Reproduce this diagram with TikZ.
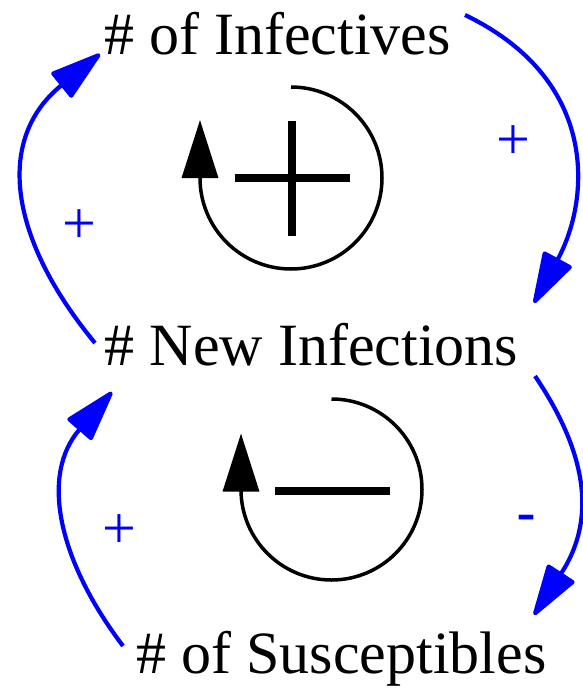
\documentclass[tikz,border=0pt]{standalone}
\usepackage{fontspec}
\setmainfont{Liberation Serif}
\newfontfamily\sansf{Liberation Sans}
\usetikzlibrary{arrows.meta}
\definecolor{linkblue}{RGB}{0,0,255}
\tikzset{
  varname/.style={anchor=base, inner sep=0pt, font=\rmfamily\fontsize{60}{72}\selectfont},
  link/.style={draw=linkblue, line width=4.2pt, -{Triangle[length=56pt,width=33pt,round]}, fill=none},
  polarity/.style={text=linkblue, inner sep=0pt, font=\rmfamily\fontsize{60}{72}\selectfont},
  loopline/.style={draw=black, line width=3.5pt, -{Triangle[length=58pt,width=36pt]}},
  loopbar/.style={draw=black, line width=8pt},
}
\begin{document}
\begin{tikzpicture}[x=1pt,y=-1pt]
\useasboundingbox (0,0) rectangle (583,690);
% variables
\node[varname] (inf) at (277.5,55) {\# of Infectives};
\node[varname] (newinf) at (311.5,365) {\# New Infections};
\node[varname] (sus) at (341.5,673) {\# of Susceptibles};
% connector end points
\coordinate (a1s) at (465,15);
\coordinate (a1e) at (534,303);
\coordinate (a2s) at (95,343);
\coordinate (a2e) at (100,54);
\coordinate (a3s) at (535,376);
\coordinate (a3e) at (534,615);
\coordinate (a4s) at (123,646);
\coordinate (a4e) at (112,392);
% causal links
\draw[link] (a1s) .. controls (600,80) and (590,200) .. (a1e);
\draw[link] (a2s) .. controls (10,240) and (-6,140) .. (a2e);
\draw[link] (a3s) .. controls (585,450) and (598,517) .. (a3e);
\draw[link] (a4s) .. controls (58,560) and (40,475) .. (a4e);
% polarities
\node[polarity] (p1) at (513,143) {+};
\node[polarity] (p2) at (79,227) {+};
\node[polarity, font=\sansf\fontsize{60}{72}\selectfont] (p3) at (526,524) {-};
\node[polarity] (p4) at (119,532) {+};
% loop 1 (reinforcing)
\coordinate (l1) at (291,178);
\draw[loopline] ([shift={(-90:91)}]l1) arc[start angle=-90,end angle=180,radius=91] -- ++(0,-58);
\draw[loopbar] (235,178) -- (350,178);
\draw[loopbar] (292,121) -- (292,236);
% loop 2 (balancing)
\coordinate (l2) at (331.5,489.5);
\draw[loopline] ([shift={(-90:90.5)}]l2) arc[start angle=-90,end angle=180,radius=90.5] -- ++(0,-56);
\draw[loopbar] (275,491) -- (390,491);
\end{tikzpicture}
\end{document}
